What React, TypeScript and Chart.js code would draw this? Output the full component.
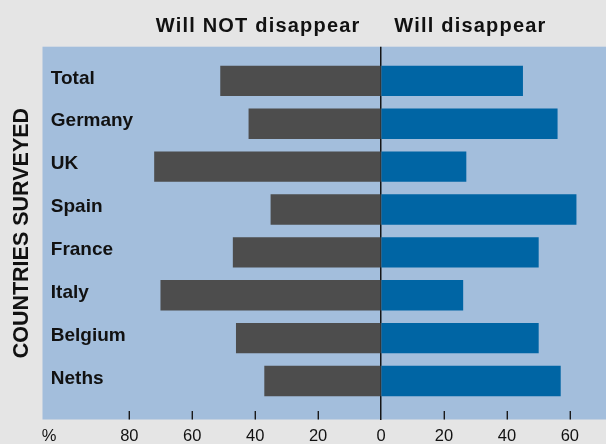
import React, { useEffect, useRef } from 'react';
import { Chart, registerables } from 'chart.js';

Chart.register(...registerables);

// ---- data ----
const COUNTRIES = ['Total', 'Germany', 'UK', 'Spain', 'France', 'Italy', 'Belgium', 'Neths'];
const WILL_NOT_DISAPPEAR = [51, 42, 72, 35, 47, 70, 46, 37];
const WILL_DISAPPEAR = [45, 56, 27, 62, 50, 26, 50, 57];
const X_TICKS = [-80, -60, -40, -20, 0, 20, 40, 60];
const UNIT_TICK = -105.5;
const UNIT_LABEL = '%';
const SERIES_TITLES = ['Will NOT disappear', 'Will disappear'];
const AXIS_TITLE = 'COUNTRIES SURVEYED';

// ---- styles ----
const FONT = "'Liberation Sans', Arial, Helvetica, sans-serif";
const PAGE_BG = '#e5e5e5';
const PLOT_BG = '#a3bedc';
const NOT_COLOR = '#4d4d4d';
const YES_COLOR = '#0065a4';
const TEXT = '#111111';

const decorPlugin = {
  id: 'decor',
  beforeDraw(chart: any) {
    const { ctx, chartArea: a } = chart;
    ctx.save();
    ctx.fillStyle = PLOT_BG;
    ctx.fillRect(a.left, a.top, a.right - a.left, a.bottom - a.top);
    ctx.restore();
  },
  afterDraw(chart: any) {
    const { ctx, chartArea: a } = chart;
    const xs = chart.scales.x;
    ctx.save();
    // inner tick marks
    ctx.strokeStyle = '#1a1a1a';
    ctx.lineWidth = 1.4;
    xs.ticks.forEach((t: any) => {
      if (t.value % 20 !== 0 || t.value === 0) return;
      const px = Math.round(xs.getPixelForValue(t.value)) + 0.3;
      ctx.beginPath();
      ctx.moveTo(px, a.bottom - 8.5);
      ctx.lineTo(px, a.bottom);
      ctx.stroke();
    });
    // series headings
    const x0 = xs.getPixelForValue(0);
    ctx.fillStyle = TEXT;
    ctx.font = `bold 20px ${FONT}`;
    (ctx as any).letterSpacing = '1.2px';
    ctx.textBaseline = 'alphabetic';
    ctx.textAlign = 'right';
    ctx.fillText(SERIES_TITLES[0], x0 - 20.5, a.top - 14.4);
    ctx.textAlign = 'left';
    ctx.fillText(SERIES_TITLES[1], x0 + 13.3, a.top - 14.4);
    (ctx as any).letterSpacing = '0px';
    ctx.restore();
  },
};

export default function App() {
  const canvasRef = useRef<HTMLCanvasElement | null>(null);

  useEffect(() => {
    if (!canvasRef.current) return;
    const chart = new Chart(canvasRef.current, {
      type: 'bar',
      data: {
        datasets: [
          {
            label: SERIES_TITLES[0],
            data: COUNTRIES.map((_, i) => ({ x: -WILL_NOT_DISAPPEAR[i], y: i })),
            backgroundColor: NOT_COLOR,
            borderWidth: 0,
            barThickness: 29.7,
            grouped: false,
          } as any,
          {
            label: SERIES_TITLES[1],
            data: COUNTRIES.map((_, i) => ({ x: WILL_DISAPPEAR[i], y: i })),
            backgroundColor: YES_COLOR,
            borderWidth: 0,
            barThickness: 29.7,
            grouped: false,
          } as any,
        ],
      },
      options: {
        indexAxis: 'y',
        animation: false,
        responsive: true,
        maintainAspectRatio: false,
        layout: { padding: { top: 46.7, left: 0, right: 0, bottom: -9.1 } },
        plugins: {
          legend: { display: false },
          tooltip: { enabled: false },
          title: { display: false },
        },
        scales: {
          x: {
            type: 'linear',
            position: 'bottom',
            offset: false,
            min: -107.6,
            max: 71.5,
            afterBuildTicks: (axis: any) => {
              axis.ticks = [{ value: UNIT_TICK }, ...X_TICKS.map((v) => ({ value: v }))];
            },
            ticks: {
              autoSkip: false,
              maxRotation: 0,
              padding: 9,
              color: TEXT,
              font: { family: FONT, size: 16.5, lineHeight: 15.6 / 16.5 },
              callback: (v: any) => (v === UNIT_TICK ? UNIT_LABEL : String(Math.abs(v))),
            },
            grid: {
              drawTicks: false,
              lineWidth: 1.5,
              color: (c: any) => (c.tick && c.tick.value === 0 ? '#151515' : 'rgba(0,0,0,0)'),
            },
            border: { display: false },
          },
          y: {
            type: 'linear',
            reverse: true,
            offset: false,
            min: -0.796,
            max: 7.898,
            afterBuildTicks: (axis: any) => {
              axis.ticks = COUNTRIES.map((_, i) => ({ value: i }));
            },
            ticks: {
              mirror: true,
              autoSkip: false,
              padding: 8.3,
              labelOffset: -2.5,
              color: TEXT,
              font: { family: FONT, size: 19, weight: 'bold', lineHeight: 0.05 },
              callback: (v: any) => COUNTRIES[v] ?? '',
            },
            grid: { display: false, drawTicks: false, offset: false },
            border: { display: false },
            title: {
              display: true,
              text: AXIS_TITLE,
              color: TEXT,
              font: { family: FONT, size: 21.5, weight: 'bold', lineHeight: 7.6 / 21.5 },
              padding: { top: 18.3, bottom: 0 },
            },
          },
        },
      } as any,
      plugins: [decorPlugin],
    });
    return () => chart.destroy();
  }, []);

  return (
    <div
      style={{
        position: 'absolute',
        left: 0,
        top: 0,
        width: 606,
        height: 444,
        background: PAGE_BG,
      }}
    >
      <canvas ref={canvasRef} />
    </div>
  );
}
